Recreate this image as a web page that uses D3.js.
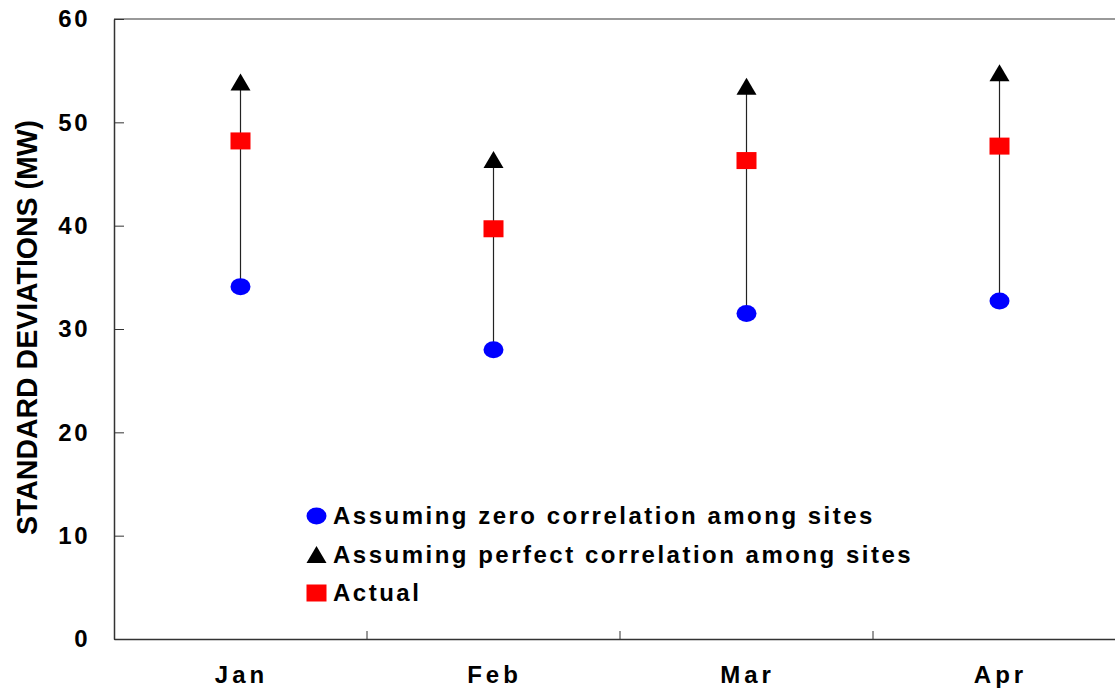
<!DOCTYPE html>
<html>
<head>
<meta charset="utf-8">
<script src="https://cdn.jsdelivr.net/npm/d3@7"></script>
<style>
  html, body { margin: 0; padding: 0; background: #fff; }
  svg { display: block; font-family: "Liberation Sans", Arial, sans-serif; }
</style>
</head>
<body>
<svg id="chart" width="1115" height="692"></svg>
<script>
const months = ["Jan", "Feb", "Mar", "Apr"];
const zeroCorr = [34.1, 28.0, 31.5, 32.7];
const perfectCorr = [53.9, 46.4, 53.5, 54.8];
const actual = [48.2, 39.7, 46.3, 47.7];
const yTicks = [0, 10, 20, 30, 40, 50, 60];
const legendLabels = [
  "Assuming zero correlation among sites",
  "Assuming perfect correlation among sites",
  "Actual"
];
const yTitle = "STANDARD DEVIATIONS (MW)";

const svg = d3.select("#chart");
const mLeft = 114, mRight = 1126, mTop = 19, mBottom = 639;

const x = d3.scaleBand().domain(months).range([mLeft, mRight]).padding(0);
const y = d3.scaleLinear().domain([0, 60]).range([mBottom, mTop]);

// top border
svg.append("line")
  .attr("x1", mLeft).attr("x2", mRight)
  .attr("y1", mTop).attr("y2", mTop)
  .attr("stroke", "#999").attr("stroke-width", 2);

// y axis
const yLs = 2.5;
const yAxis = svg.append("g")
  .attr("transform", `translate(${mLeft},0)`)
  .call(d3.axisLeft(y).tickValues(yTicks).tickSizeInner(-10).tickSizeOuter(0).tickPadding(24));
yAxis.select(".domain").attr("stroke", "#333").attr("stroke-width", 1.5);
yAxis.selectAll(".tick line").attr("stroke", "#333").attr("stroke-width", 1);
yAxis.selectAll(".tick text")
  .attr("font-size", 24).attr("font-weight", "bold").attr("fill", "#000")
  .attr("font-family", "Liberation Sans, Arial, sans-serif")
  .style("letter-spacing", yLs + "px");

// x axis
const xLs = 4;
const xAxis = svg.append("g")
  .attr("transform", `translate(0,${mBottom})`)
  .call(d3.axisBottom(x).tickSize(0).tickPadding(0));
xAxis.select(".domain").attr("stroke", "#333").attr("stroke-width", 1.5);
xAxis.selectAll(".tick text")
  .attr("font-size", 24).attr("font-weight", "bold").attr("fill", "#000")
  .attr("font-family", "Liberation Sans, Arial, sans-serif")
  .attr("y", 44).attr("dy", 0).attr("dx", xLs / 2 - 1)
  .style("letter-spacing", xLs + "px");
// category separator ticks (inward)
svg.append("g").selectAll("line")
  .data(months.slice(1))
  .join("line")
  .attr("x1", d => x(d)).attr("x2", d => x(d))
  .attr("y1", mBottom).attr("y2", mBottom - 8)
  .attr("stroke", "#333").attr("stroke-width", 1);

const cx = d => x(d) + x.bandwidth() / 2;
const data = months.map((m, i) => ({ m, z: zeroCorr[i], p: perfectCorr[i], a: actual[i] }));

// hi-lo lines
svg.append("g").selectAll("line")
  .data(data).join("line")
  .attr("x1", d => cx(d.m)).attr("x2", d => cx(d.m))
  .attr("y1", d => y(d.p)).attr("y2", d => y(d.z))
  .attr("stroke", "#222").attr("stroke-width", 1.2);

const mw = 10, mh = 8.5;
const triPath = (px, py) => `M${px - mw},${py + mh}L${px},${py - mh}L${px + mw},${py + mh}Z`;

// circles
svg.append("g").selectAll("ellipse")
  .data(data).join("ellipse")
  .attr("cx", d => cx(d.m)).attr("cy", d => y(d.z))
  .attr("rx", mw).attr("ry", mh).attr("fill", "#0000ff");
// triangles
svg.append("g").selectAll("path")
  .data(data).join("path")
  .attr("d", d => triPath(cx(d.m), y(d.p))).attr("fill", "#000");
// squares
svg.append("g").selectAll("rect")
  .data(data).join("rect")
  .attr("x", d => cx(d.m) - mw).attr("y", d => y(d.a) - mh)
  .attr("width", 2 * mw).attr("height", 2 * mh).attr("fill", "#ff0000");

// legend
const lg = svg.append("g");
const lx = 316.5, ly0 = 516, ldy = 38.5;
legendLabels.forEach((t, i) => {
  const yy = ly0 + i * ldy;
  if (i === 0) lg.append("ellipse").attr("cx", lx).attr("cy", yy).attr("rx", mw).attr("ry", mh).attr("fill", "#0000ff");
  if (i === 1) lg.append("path").attr("d", triPath(lx, yy)).attr("fill", "#000");
  if (i === 2) lg.append("rect").attr("x", lx - mw).attr("y", yy - mh).attr("width", 2 * mw).attr("height", 2 * mh).attr("fill", "#ff0000");
  lg.append("text")
    .attr("x", 333).attr("y", yy + 8)
    .attr("font-size", 24).attr("font-weight", "bold").attr("fill", "#000")
    .style("letter-spacing", "2.5px")
    .text(t);
});

// y title
svg.append("text")
  .attr("transform", "translate(36.5,327.5) rotate(-90)")
  .attr("text-anchor", "middle")
  .attr("font-size", 30).attr("font-weight", "bold").attr("fill", "#000")
  .attr("textLength", 415).attr("lengthAdjust", "spacingAndGlyphs")
  .text(yTitle);
</script>
</body>
</html>
